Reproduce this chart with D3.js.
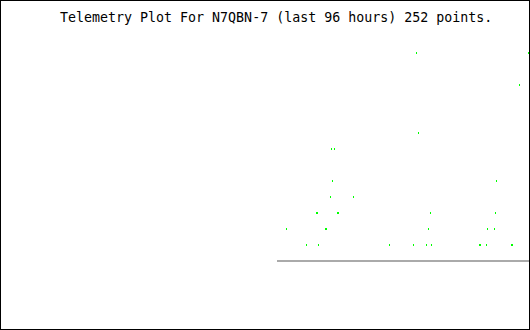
<!DOCTYPE html>
<html>
<head>
<meta charset="utf-8">
<script src="https://cdn.jsdelivr.net/npm/d3@7"></script>
<style>
  html, body { margin: 0; padding: 0; background: #fff; }
  svg { display: block; }
</style>
</head>
<body>
<div id="chart"></div>
<script>
// Title
const titleText = "Telemetry Plot For N7QBN-7 (last 96 hours) 252 points.";

// Telemetry samples: time (hours into the 96-hour window) and value (units)
const hours = [
  55.64, 57.82, 70.73, 75.09, 77.45, 78.36, 87.09, 87.27, 88.36, 92.91, 93.09,
  52.00, 59.09, 59.27, 77.82, 88.55, 89.82,
  57.45, 57.64, 61.27, 61.45, 78.18, 90.00,
  60.00, 64.18,
  60.36, 90.18,
  60.18, 60.73,
  76.00,
  94.36,
  75.64, 96.00
];
const values = [
  1, 1, 1, 1, 1, 1, 1, 1, 1, 1, 1,
  2, 2, 2, 2, 2, 2,
  3, 3, 3, 3, 3, 3,
  4, 4,
  5, 5,
  7, 7,
  8,
  11,
  13, 13
];

// Baseline (zero) series span, in hours
const baselineHours = [50.36, 96.36];
const baselineValue = 0;

const W = 530, H = 330;

const svg = d3.select("#chart").append("svg")
  .attr("width", W).attr("height", H)
  .attr("shape-rendering", "crispEdges");

svg.append("rect")
  .attr("x", 0).attr("y", 0).attr("width", W).attr("height", H)
  .attr("fill", "#fff");

const x = d3.scaleLinear().domain([0, 96]).range([0, 528]);
const y = d3.scaleLinear().domain([0, 16]).range([261, 5]);

// Baseline
svg.append("line")
  .attr("x1", Math.round(x(baselineHours[0])))
  .attr("x2", Math.round(x(baselineHours[1])))
  .attr("y1", y(baselineValue))
  .attr("y2", y(baselineValue))
  .attr("stroke", "#aaaaaa")
  .attr("stroke-width", 2);

// Points
const pts = hours.map((h, i) => ({ h, v: values[i] }));
svg.append("g").selectAll("rect")
  .data(pts)
  .join("rect")
  .attr("x", d => Math.round(x(d.h)))
  .attr("y", d => Math.round(y(d.v)) - 1)
  .attr("width", 1)
  .attr("height", 2)
  .attr("fill", "#00ff00");

// Title
svg.append("text")
  .attr("x", 60)
  .attr("y", 22)
  .attr("font-family", "'DejaVu Sans Mono', 'Liberation Mono', monospace")
  .attr("font-size", "13.3px")
  .attr("fill", "#000")
  .attr("xml:space", "preserve")
  .text(titleText);

// Border
svg.append("rect")
  .attr("x", 0.5).attr("y", 0.5)
  .attr("width", W - 1).attr("height", H - 1)
  .attr("fill", "none")
  .attr("stroke", "#000")
  .attr("stroke-width", 1);
</script>
</body>
</html>
